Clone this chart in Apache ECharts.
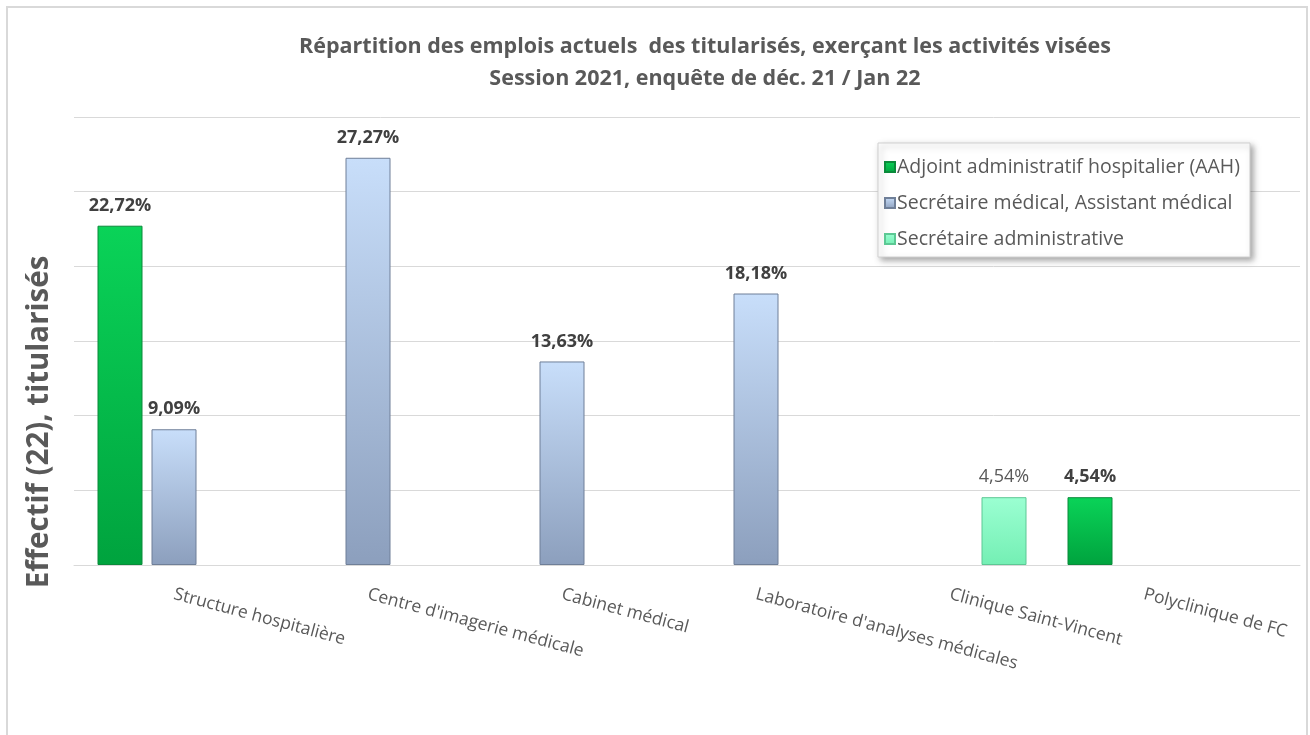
<!doctype html>
<html>
    <head>
        <meta charset="utf-8">
        <title>Répartition des emplois actuels</title>
        <style>
            html, body { margin: 0; padding: 0; background: #fff; }
            #main { width: 1310px; height: 735px; }
        </style>
    </head>
    <body>
        <div id="main"></div>
        <script src="https://cdn.jsdelivr.net/npm/echarts@6/dist/echarts.min.js"></script>
        <script>
            var categories = ['Structure hospitalière', "Centre d'imagerie médicale", 'Cabinet médical',
                "Laboratoire d'analyses médicales", 'Clinique Saint-Vincent', 'Polyclinique de FC'];
            var seriesNames = ['Adjoint administratif hospitalier (AAH)',
                'Secrétaire médical, Assistant médical', 'Secrétaire administrative'];
            var aahValues = [22.72, null, null, null, null, 4.54];
            var secMedValues = [9.09, 27.27, 13.63, 18.18, null, null];
            var secAdmValues = [null, null, null, null, 4.54, null];

            var FONT = '"Open Sans", "Noto Sans", sans-serif';
            var chart = echarts.init(document.getElementById('main'));

            function grad(top, bottom) {
                return new echarts.graphic.LinearGradient(0, 0, 0, 1, [
                    { offset: 0, color: top },
                    { offset: 1, color: bottom }
                ]);
            }
            function fmt(p) {
                return p.value.toFixed(2).replace('.', ',') + '%';
            }

            var greenStyle = { color: grad('#0ad358', '#00a33e'), borderColor: '#0a8a3a', borderWidth: 1 };
            var blueStyle = { color: grad('#c8defa', '#8c9fbd'), borderColor: '#6f7f98', borderWidth: 1 };
            var lightStyle = { color: grad('#9bffd2', '#74efb4'), borderColor: '#5cc894', borderWidth: 1 };

            chart.setOption({
                backgroundColor: '#fff',
                textStyle: { fontFamily: FONT },
                title: {
                    text: 'Répartition des emplois actuels  des titularisés, exerçant les activités visées\nSession 2021, enquête de déc. 21 / Jan 22',
                    left: 700,
                    textAlign: 'center',
                    top: 26,
                    textStyle: { fontFamily: FONT, fontSize: 21.5, fontWeight: 'bold', color: '#595959', lineHeight: 32 }
                },
                legend: {
                    orient: 'vertical',
                    left: 878,
                    top: 143,
                    padding: [12, 10, 6, 6],
                    itemGap: 12,
                    itemWidth: 10,
                    itemHeight: 10,
                    backgroundColor: '#fff',
                    borderColor: '#d0d0d0',
                    borderWidth: 1,
                    shadowColor: 'rgba(0,0,0,0.35)',
                    shadowBlur: 6,
                    shadowOffsetX: 3,
                    shadowOffsetY: 3,
                    textStyle: { fontFamily: FONT, fontSize: 19.5, color: '#595959', padding: [0, 0, 0, -3], lineHeight: 24 },
                    data: seriesNames.map(function (n) { return { name: n, icon: 'rect' }; })
                },
                graphic: [{
                    type: 'rect',
                    shape: { x: 7, y: 7, width: 1300, height: 760 },
                    style: { fill: 'none', stroke: '#d9d9d9', lineWidth: 2 },
                    silent: true,
                    z: -1
                }, {
                    type: 'text',
                    x: 40,
                    y: 422,
                    rotation: Math.PI / 2,
                    style: {
                        text: 'Effectif (22), titularisés',
                        fontFamily: FONT,
                        fontSize: 29.5,
                        fontWeight: 'bold',
                        fill: '#595959',
                        align: 'center',
                        verticalAlign: 'middle'
                    }
                }],
                grid: [
                    { left: 74, right: 10, top: 117, bottom: 170 },
                    { left: 77, width: 1164, top: 117, bottom: 170 }
                ],
                xAxis: [{
                    gridIndex: 0,
                    type: 'value',
                    min: 0,
                    max: 1,
                    axisLine: { show: true, onZero: false, lineStyle: { color: '#d9d9d9', width: 1 } },
                    axisTick: { show: false },
                    axisLabel: { show: false },
                    splitLine: { show: false }
                }, {
                    gridIndex: 1,
                    type: 'category',
                    data: categories,
                    axisLine: { show: false },
                    axisTick: { show: false },
                    axisLabel: {
                        rotate: -15,
                        margin: 29,
                        interval: 0,
                        fontFamily: FONT,
                        fontSize: 17.5,
                        color: '#595959'
                    }
                }],
                yAxis: [{
                    gridIndex: 0,
                    type: 'value',
                    min: 0,
                    max: 30,
                    interval: 5,
                    axisLine: { show: false },
                    axisTick: { show: false },
                    axisLabel: { show: false },
                    splitLine: { lineStyle: { color: '#d9d9d9', width: 1 } }
                }, {
                    gridIndex: 1,
                    type: 'value',
                    min: 0,
                    max: 30,
                    interval: 5,
                    axisLine: { show: false },
                    axisTick: { show: false },
                    axisLabel: { show: false },
                    splitLine: { show: false }
                }],
                series: [{
                    name: seriesNames[0],
                    type: 'bar',
                    xAxisIndex: 1,
                    yAxisIndex: 1,
                    barWidth: 45,
                    barGap: '20%',
                    data: aahValues,
                    itemStyle: greenStyle,
                    label: {
                        show: true, position: 'top', distance: 11, formatter: fmt,
                        fontFamily: FONT, fontSize: 18, fontWeight: 'bold', color: '#404040'
                    }
                }, {
                    name: seriesNames[1],
                    type: 'bar',
                    xAxisIndex: 1,
                    yAxisIndex: 1,
                    barWidth: 45,
                    barGap: '20%',
                    data: secMedValues,
                    itemStyle: blueStyle,
                    label: {
                        show: true, position: 'top', distance: 11, formatter: fmt,
                        fontFamily: FONT, fontSize: 18, fontWeight: 'bold', color: '#404040'
                    }
                }, {
                    name: seriesNames[2],
                    type: 'bar',
                    xAxisIndex: 1,
                    yAxisIndex: 1,
                    barWidth: 45,
                    barGap: '20%',
                    data: secAdmValues,
                    itemStyle: lightStyle,
                    label: {
                        show: true, position: 'top', distance: 11, formatter: fmt,
                        fontFamily: FONT, fontSize: 18, color: '#595959'
                    }
                }]
            });
        </script>
    </body>
</html>
